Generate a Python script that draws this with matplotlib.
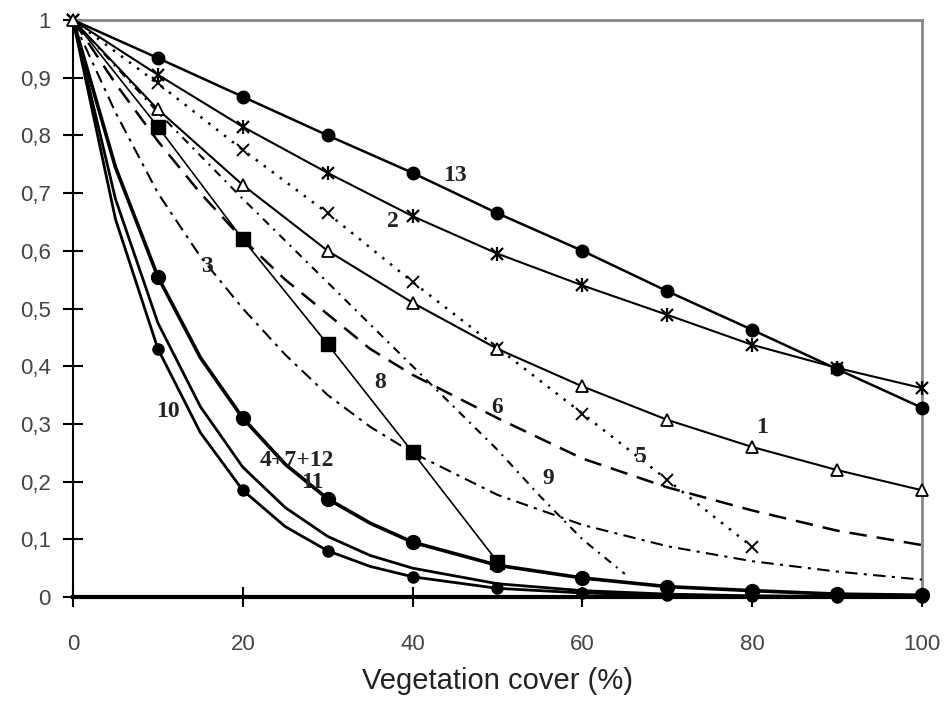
import matplotlib
matplotlib.use("Agg")
import matplotlib.pyplot as plt

# ---- data ----
cover = [0, 10, 20, 30, 40, 50, 60, 70, 80, 90, 100]
cover_fine = [0, 5, 10, 15, 20, 25, 30, 35, 40, 50, 60, 70, 80, 90, 100]

s13 = [1, 0.934, 0.867, 0.80, 0.735, 0.665, 0.60, 0.53, 0.463, 0.395, 0.328]
s2 = [1, 0.905, 0.815, 0.735, 0.66, 0.595, 0.54, 0.489, 0.437, 0.397, 0.362]
s1 = [1, 0.845, 0.714, 0.60, 0.51, 0.43, 0.365, 0.307, 0.26, 0.22, 0.185]

cover5 = [0, 10, 20, 30, 40, 50, 60, 70, 80]
s5 = [1, 0.89, 0.775, 0.665, 0.546, 0.432, 0.318, 0.203, 0.087]

cover8 = [0, 10, 20, 30, 40, 50]
s8 = [1, 0.815, 0.62, 0.438, 0.251, 0.061]

cover9 = [0, 10, 20, 30, 40, 50, 55, 60, 65]
s9 = [1, 0.84, 0.69, 0.545, 0.40, 0.255, 0.175, 0.10, 0.04]

s6 = [1, 0.89, 0.79, 0.70, 0.62, 0.55, 0.49, 0.43, 0.385, 0.31, 0.24, 0.19, 0.15, 0.115, 0.09]
s3 = [1, 0.84, 0.70, 0.59, 0.50, 0.42, 0.35, 0.295, 0.25, 0.177, 0.125, 0.088, 0.062, 0.044, 0.03]
s4_7_12 = [1, 0.745, 0.555, 0.415, 0.31, 0.23, 0.17, 0.128, 0.095, 0.055, 0.033, 0.018, 0.011, 0.005, 0.003]
s11 = [1, 0.69, 0.475, 0.33, 0.225, 0.155, 0.105, 0.072, 0.05, 0.023, 0.011, 0.005, 0.002, 0.001, 0.0]
s10 = [1, 0.655, 0.43, 0.285, 0.185, 0.122, 0.08, 0.053, 0.035, 0.015, 0.007, 0.003, 0.001, 0.0, 0.0]

labels = ["13", "2", "3", "1", "8", "6", "5", "9", "10", "4+7+12", "11"]
label_x = [45.0, 37.7, 15.8, 81.2, 36.2, 50.0, 66.9, 56.0, 11.2, 26.4, 28.2]
label_y = [0.731, 0.65, 0.572, 0.293, 0.371, 0.328, 0.244, 0.205, 0.322, 0.236, 0.199]

xticks = [0, 20, 40, 60, 80, 100]
yticks = [0, 0.1, 0.2, 0.3, 0.4, 0.5, 0.6, 0.7, 0.8, 0.9, 1.0]
ytick_labels = ["0", "0,1", "0,2", "0,3", "0,4", "0,5", "0,6", "0,7", "0,8", "0,9", "1"]
xlabel = "Vegetation cover (%)"

# ---- figure ----
plt.rcParams['font.family'] = ['Liberation Sans', 'DejaVu Sans']
fig = plt.figure(figsize=(9.45, 7.05), dpi=100)
ax = fig.add_axes([73/945, 1-597/705, (922-73)/945, (597-20)/705])

fine_marks = [i for i, v in enumerate(cover_fine) if v % 10 == 0 and v > 0]
coarse_marks = list(range(1, len(cover)))
k = dict(color='black', clip_on=False)

ax.plot(cover, s13, lw=1.8, marker='o', ms=9, markevery=coarse_marks, zorder=5, **k)
ax.plot(cover, s2, lw=1.5, marker='x', ms=9, mew=1.6, zorder=5, **k)
ax.plot(cover, s2, lw=0, marker='|', ms=10, mew=1.6, markevery=coarse_marks, zorder=5, **k)
ax.plot(cover, s1, lw=1.5, marker='^', ms=8, mfc='white', mew=1.3, zorder=6, **k)
ax.plot(cover5, s5, lw=1.8, ls=(0, (1, 3)), marker='x', ms=9, mew=1.4, zorder=4, **k)
ax.plot(cover8, s8, lw=1.2, marker='s', ms=10, markevery=list(range(1, len(cover8))), zorder=5, **k)
ax.plot(cover9, s9, lw=1.5, ls=(0, (4, 3, 1, 3)), zorder=3, **k)
ax.plot(cover_fine, s6, lw=1.8, ls=(0, (7, 4)), zorder=3, **k)
ax.plot(cover_fine, s3, lw=1.5, ls=(0, (6, 3, 1.5, 3)), zorder=3, **k)
ax.plot(cover_fine, s4_7_12, lw=2.6, marker='o', ms=10, markevery=fine_marks, zorder=5, **k)
ax.plot(cover_fine, s11, lw=2.0, zorder=4, **k)
ax.plot(cover_fine, s10, lw=2.0, marker='o', ms=8, markevery=fine_marks, zorder=5, **k)

for t, x, y in zip(labels, label_x, label_y):
    ax.text(x, y, t, ha='center', va='center', fontsize=17, fontweight='bold',
            family=['Liberation Serif', 'DejaVu Serif'], color='#222222', zorder=7)

ax.set_xlim(0, 100)
ax.set_ylim(0, 1)
ax.set_xticks(xticks)
ax.set_xticklabels([str(v) for v in xticks])
ax.set_yticks(yticks)
ax.set_yticklabels(ytick_labels)
ax.tick_params(axis='both', direction='inout', length=14, width=1.5, labelsize=16,
               labelcolor='#444444', color='black')
ax.tick_params(axis='x', pad=20)
ax.tick_params(axis='y', pad=9)

ax.spines['left'].set_color('black')
ax.spines['left'].set_linewidth(1.5)
ax.spines['bottom'].set_color('black')
ax.spines['bottom'].set_linewidth(3)
ax.spines['top'].set_color('#888888')
ax.spines['top'].set_linewidth(2)
ax.spines['right'].set_color('#888888')
ax.spines['right'].set_linewidth(2)

ax.set_xlabel(xlabel, fontsize=21, color='#222222', labelpad=8)

fig.savefig("out.png", dpi=100)
